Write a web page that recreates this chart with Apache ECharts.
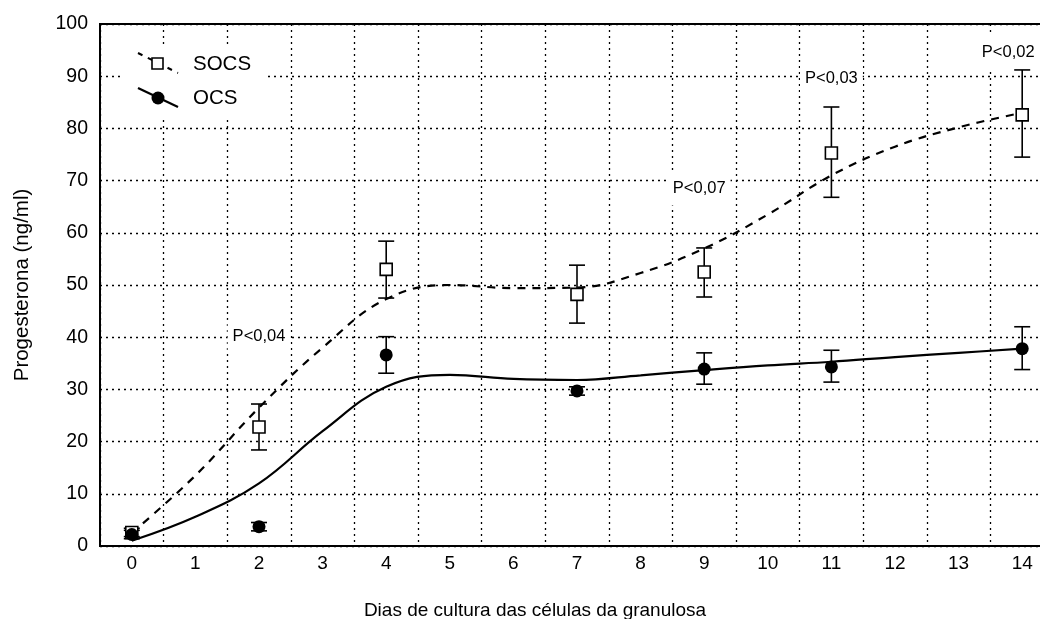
<!DOCTYPE html>
<html>
<head>
<meta charset="utf-8">
<script src="https://cdn.jsdelivr.net/npm/echarts@6/dist/echarts.min.js"></script>
<style>html,body{margin:0;padding:0;background:#fff}#c{width:1040px;height:619px}</style>
</head>
<body>
<div id="c"></div>
<script>
// Categories (days)
const days = ['0','1','2','3','4','5','6','7','8','9','10','11','12','13','14'];
// Fitted curves (read at each day)
const socsFit = [2.5, 13.5, 26.5, 38, 47.3, 50, 49.4, 49.5, 52.3, 57, 63.5, 71, 76.5, 80.2, 83];
const ocsFit  = [1, 5.6, 12, 22, 30.5, 32.8, 32, 31.8, 32.7, 33.7, 34.6, 35.3, 36.2, 37, 37.8];
// Measured points
const measDays = [0, 2, 4, 7, 9, 11, 14];
const socsMean = [2.6, 22.8, 53, 48.2, 52.5, 75.3, 82.6];
const socsLow  = [1.8, 18.4, 47.5, 42.7, 47.7, 66.8, 74.5];
const socsHigh = [3.4, 27.2, 58.4, 53.8, 57.1, 84.1, 91.2];
const ocsMean  = [2.2, 3.7, 36.6, 29.7, 33.9, 34.3, 37.8];
const ocsLow   = [1.4, 2.9, 33.1, 28.9, 31.0, 31.4, 33.8];
const ocsHigh  = [3.0, 4.5, 40.1, 30.5, 37.0, 37.5, 42.0];
// Annotations
const annDays  = [2, 9, 11, 14];
const annY     = [40.2, 68.4, 89.5, 94.6];
const annText  = ['P<0,04', 'P<0,07', 'P<0,03', 'P<0,02'];
const annDx    = [0, -5, 0, -14];

const FONT = "'Liberation Sans', Arial, sans-serif";
const chart = echarts.init(document.getElementById('c'), null, {renderer: 'canvas'});

function errData(low, high) {
  return measDays.map((d, i) => [d, low[i], high[i]]);
}
function errRender(params, api) {
  const x = api.value(0);
  const lo = api.coord([x, api.value(1)]);
  const hi = api.coord([x, api.value(2)]);
  const w = 8;
  const st = {stroke: '#000', lineWidth: 1.6};
  return {type: 'group', children: [
    {type: 'line', shape: {x1: lo[0], y1: lo[1], x2: hi[0], y2: hi[1]}, style: st},
    {type: 'line', shape: {x1: lo[0]-w, y1: lo[1], x2: lo[0]+w, y2: lo[1]}, style: st},
    {type: 'line', shape: {x1: hi[0]-w, y1: hi[1], x2: hi[0]+w, y2: hi[1]}, style: st}
  ]};
}

const option = {
  animation: false,
  backgroundColor: '#fff',
  textStyle: {fontFamily: FONT},
  grid: {left: 100, top: 24, bottom: 73, right: -14, show: true, borderColor: '#000', borderWidth: 2,
         containLabel: false, outerBoundsMode: 'none'},
  xAxis: {
    type: 'category', data: days, boundaryGap: true,
    name: 'Dias de cultura das células da granulosa', nameLocation: 'middle', nameGap: 55,
    nameTextStyle: {fontSize: 19, color: '#000', fontFamily: FONT, padding: [0, 84, 0, 0]},
    axisLine: {lineStyle: {color: '#000', width: 2}},
    axisTick: {show: false},
    axisLabel: {fontSize: 19, color: '#000', margin: 8, fontFamily: FONT, interval: 0},
    splitLine: {show: true, interval: 0, lineStyle: {color: '#000', type: [2, 4], width: 1.3}}
  },
  yAxis: {
    type: 'value', min: 0, max: 100, interval: 10,
    name: 'Progesterona (ng/ml)', nameLocation: 'middle', nameGap: 67,
    nameTextStyle: {fontSize: 20.5, color: '#000', fontFamily: FONT},
    axisLine: {show: true, lineStyle: {color: '#000', width: 2}},
    axisTick: {show: false},
    axisLabel: {fontSize: 19.5, color: '#000', margin: 12, fontFamily: FONT},
    splitLine: {show: true, lineStyle: {color: '#000', type: [2, 4], width: 1.3}}
  },
  series: [
    {type: 'line', name: 'SOCS fit', data: socsFit, smooth: 0.4, symbol: 'none',
     lineStyle: {color: '#000', width: 2.2, type: [8, 7]}, z: 3},
    {type: 'line', name: 'OCS fit', data: ocsFit, smooth: 0.4, symbol: 'none',
     lineStyle: {color: '#000', width: 2.2}, z: 3},
    {type: 'custom', data: errData(socsLow, socsHigh), renderItem: errRender, z: 4},
    {type: 'custom', data: errData(ocsLow, ocsHigh), renderItem: errRender, z: 4},
    {type: 'scatter', name: 'SOCS', data: measDays.map((d, i) => [d, socsMean[i]]),
     symbol: 'rect', symbolSize: 12,
     itemStyle: {color: '#fff', borderColor: '#000', borderWidth: 1.6, opacity: 1}, z: 5},
    {type: 'scatter', name: 'OCS', data: measDays.map((d, i) => [d, ocsMean[i]]),
     symbol: 'circle', symbolSize: 13,
     itemStyle: {color: '#000', opacity: 1}, z: 5},
    {type: 'scatter', name: 'ann', symbolSize: 1, silent: true, z: 2,
     itemStyle: {color: '#fff', opacity: 1},
     data: annDays.map((d, i) => ({value: [d, annY[i]],
       label: {show: true, position: 'inside', formatter: annText[i], offset: [annDx[i], 0],
               fontSize: 16.5, color: '#000', opacity: 1, fontFamily: FONT,
               backgroundColor: '#fff', padding: [8, 5]}}))}
  ],
  graphic: [
    {type: 'rect', shape: {x: 123, y: 45, width: 142, height: 72}, style: {fill: '#fff'}, z: 10},
    {type: 'line', shape: {x1: 138, y1: 53, x2: 178, y2: 73}, style: {stroke: '#000', lineWidth: 2, lineDash: [5, 6]}, z: 11},
    {type: 'rect', shape: {x: 152, y: 58, width: 11, height: 11}, style: {fill: '#fff', stroke: '#000', lineWidth: 1.6}, z: 12},
    {type: 'text', style: {text: 'SOCS', x: 193, y: 64, fontSize: 20.5, fontFamily: FONT, fill: '#000', verticalAlign: 'middle'}, z: 12},
    {type: 'line', shape: {x1: 138, y1: 88, x2: 178, y2: 107}, style: {stroke: '#000', lineWidth: 2.2}, z: 11},
    {type: 'circle', shape: {cx: 158, cy: 98, r: 6.5}, style: {fill: '#000'}, z: 12},
    {type: 'text', style: {text: 'OCS', x: 193, y: 98, fontSize: 20.5, fontFamily: FONT, fill: '#000', verticalAlign: 'middle'}, z: 12}
  ]
};
chart.setOption(option);
</script>
</body>
</html>
